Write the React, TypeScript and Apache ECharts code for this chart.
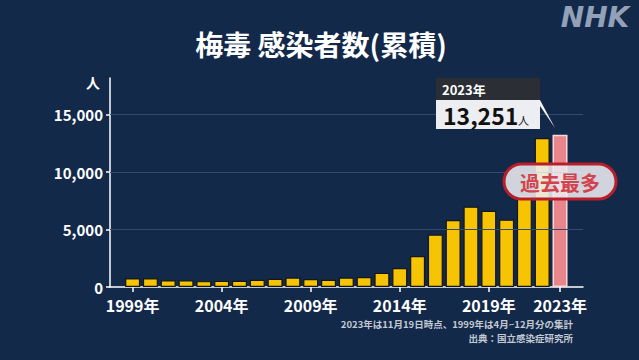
import { useEffect, useRef } from "react";
import * as echarts from "echarts";

const years = [1999, 2000, 2001, 2002, 2003, 2004, 2005, 2006, 2007, 2008, 2009, 2010, 2011, 2012, 2013, 2014, 2015, 2016, 2017, 2018, 2019, 2020, 2021, 2022, 2023];
const cases = [753, 759, 585, 575, 509, 533, 543, 637, 719, 831, 691, 621, 827, 875, 1228, 1661, 2690, 4575, 5826, 7007, 6642, 5867, 7978, 12966, 13251];
const xTickYears = [1999, 2004, 2009, 2014, 2019, 2023];
const yTickValues = [0, 5000, 10000, 15000];
const yGridValues = [5000, 10000, 15000];
const highlightYear = 2023;

const FONT = '"Noto Sans CJK JP", "Noto Sans", sans-serif';
const BG = "#13294a";
const YELLOW = "#f6c400";
const PINK = "#e9868b";

export default function App() {
  const ref = useRef<HTMLDivElement>(null);
  useEffect(() => {
    if (!ref.current) return;
    const chart = echarts.init(ref.current, null, { renderer: "svg" });
    const highlightValue = cases[years.indexOf(highlightYear)];
    chart.setOption({
      animation: false,
      backgroundColor: BG,
      textStyle: { fontFamily: FONT },
      grid: { left: 110, right: 56, top: 78, bottom: 73 },
      xAxis: {
        type: "value",
        min: 1997.73,
        max: 2024.29,
        splitLine: { show: false },
        axisLine: { show: true, lineStyle: { color: "#ffffff", width: 1.5 } },
        axisTick: { show: true, customValues: xTickYears, length: 5, lineStyle: { color: "#ffffff", width: 1.5 } },
        axisLabel: {
          customValues: xTickYears,
          formatter: (v: number) => v + "年",
          color: "#ffffff",
          fontSize: 16,
          fontWeight: "bold",
          fontFamily: FONT,
          margin: 10,
        },
      },
      yAxis: {
        type: "value",
        min: 0,
        max: 18200,
        interval: 5000,
        splitLine: { show: false },
        axisLine: { show: true, lineStyle: { color: "#ffffff", width: 1.5 } },
        axisTick: { show: true, customValues: yTickValues, length: 4, lineStyle: { color: "#ffffff", width: 1.5 } },
        axisLabel: {
          customValues: yTickValues,
          formatter: (v: number) => v.toLocaleString("en-US"),
          color: "#ffffff",
          fontSize: 15,
          fontWeight: "bold",
          fontFamily: FONT,
          margin: 7,
        },
      },
      series: [
        {
          type: "line",
          data: [],
          z: 0,
          markLine: {
            silent: true,
            symbol: "none",
            label: { show: false },
            lineStyle: { color: "#34496b", width: 1, type: "solid" },
            data: yGridValues.map((v) => ({ yAxis: v })),
          },
        },
        {
          type: "bar",
          z: 3,
          barWidth: 15,
          itemStyle: { color: YELLOW, borderColor: "#15161a", borderWidth: 1.2 },
          data: years.map((y, i) => ({
            value: [y, cases[i]],
            itemStyle:
              y === highlightYear
                ? { color: PINK, borderColor: "#f6dada", borderWidth: 1.5 }
                : undefined,
          })),
        },
      ],
      graphic: [
        {
          type: "text",
          x: 321,
          y: 44,
          z: 100,
          style: {
            text: "梅毒 感染者数(累積)",
            fill: "#ffffff",
            font: `bold 28px ${FONT}`,
            align: "center",
            verticalAlign: "middle",
          },
        },
        {
          type: "text",
          x: 595,
          y: 17,
          z: 100,
          style: {
            text: "NHK",
            fill: "#93a1b8",
            font: 'italic bold 28px "DejaVu Sans"',
            align: "center",
            verticalAlign: "middle",
          },
        },
        {
          type: "text",
          x: 93,
          y: 82,
          z: 100,
          style: { text: "人", fill: "#ffffff", font: `bold 14px ${FONT}`, align: "center", verticalAlign: "middle" },
        },
        {
          type: "group",
          z: 100,
          children: [
            { type: "rect", z: 100, shape: { x: 436, y: 78, width: 104, height: 22 }, style: { fill: "#2b2e34" } },
            { type: "rect", z: 100, shape: { x: 436, y: 100, width: 104, height: 29 }, style: { fill: "#eceef2" } },
            { type: "polygon", z: 100, shape: { points: [[540, 100], [540, 106], [555, 128]] }, style: { fill: "#f2f2f2" } },
            {
              type: "text",
              z: 101,
              x: 442,
              y: 89,
              style: { text: highlightYear + "年", fill: "#ffffff", font: `bold 13px ${FONT}`, align: "left", verticalAlign: "middle" },
            },
            {
              type: "text",
              z: 101,
              x: 443,
              y: 115,
              style: {
                text: highlightValue.toLocaleString("en-US"),
                fill: "#111111",
                font: `bold 23px ${FONT}`,
                align: "left",
                verticalAlign: "middle",
              },
            },
            {
              type: "text",
              z: 101,
              x: 518,
              y: 120,
              style: { text: "人", fill: "#111111", font: `11px ${FONT}`, align: "left", verticalAlign: "middle" },
            },
          ],
        },
        {
          type: "group",
          z: 100,
          children: [
            {
              type: "rect",
              z: 100,
              shape: { x: 504, y: 164, width: 112, height: 35, r: 17.5 },
              style: { fill: "rgba(236,236,240,0.88)", stroke: "#b81f2a", lineWidth: 3 },
            },
            {
              type: "text",
              z: 101,
              x: 560,
              y: 182,
              style: { text: "過去最多", fill: "#d2434d", font: `bold 20px ${FONT}`, align: "center", verticalAlign: "middle" },
            },
          ],
        },
        {
          type: "text",
          x: 573,
          y: 324,
          z: 100,
          style: {
            text: "2023年は11月19日時点、1999年は4月~12月分の集計",
            fill: "#c3c9d3",
            font: `bold 9.5px ${FONT}`,
            align: "right",
            verticalAlign: "middle",
          },
        },
        {
          type: "text",
          x: 573,
          y: 338,
          z: 100,
          style: {
            text: "出典：国立感染症研究所",
            fill: "#c3c9d3",
            font: `bold 9.5px ${FONT}`,
            align: "right",
            verticalAlign: "middle",
          },
        },
      ],
    });
    return () => chart.dispose();
  }, []);
  return <div ref={ref} style={{ width: 639, height: 360, position: "fixed", left: 0, top: 0 }} />;
}
